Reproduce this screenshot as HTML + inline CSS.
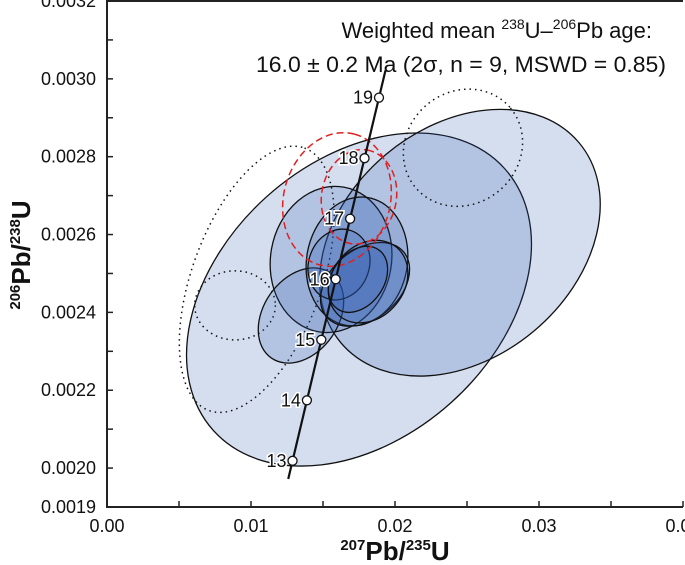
<!DOCTYPE html>
<html><head><meta charset="utf-8"><style>
body{margin:0;background:#fff}
svg{display:block;font-family:"Liberation Sans",Arial,sans-serif}
</style></head><body>
<svg id="chart" width="685" height="565" viewBox="0 0 685 565" xmlns="http://www.w3.org/2000/svg">
<g id="ells"></g>
<g id="conc"></g>
<g id="axes"></g>
<text x="652" y="38" text-anchor="end" font-size="22" fill="#111">Weighted mean <tspan font-size="14" dy="-9">238</tspan><tspan dy="9">U–</tspan><tspan font-size="14" dy="-9">206</tspan><tspan dy="9">Pb age:</tspan></text>
<text x="666" y="72" text-anchor="end" font-size="22" fill="#111" textLength="410" lengthAdjust="spacingAndGlyphs">16.0 ± 0.2 Ma (2σ, n = 9, MSWD = 0.85)</text>
<text x="395" y="560" text-anchor="middle" font-size="26" font-weight="bold" fill="#111"><tspan font-size="15" dy="-10">207</tspan><tspan dy="10">Pb/</tspan><tspan font-size="15" dy="-10">235</tspan><tspan dy="10">U</tspan></text>
<text transform="translate(30,255) rotate(-90)" text-anchor="middle" font-size="26" font-weight="bold" fill="#111"><tspan font-size="15" dy="-10">206</tspan><tspan dy="10">Pb/</tspan><tspan font-size="15" dy="-10">238</tspan><tspan dy="10">U</tspan></text>
</svg>
<script>
const xTicks=[0,0.01,0.02,0.03,0.04];
const xTickLabels=["0.00","0.01","0.02","0.03","0.04"];
const yTicks=[0.0019,0.0020,0.0022,0.0024,0.0026,0.0028,0.0030,0.0032];
const yTickLabels=["0.0019","0.0020","0.0022","0.0024","0.0026","0.0028","0.0030","0.0032"];
const concAges=[13,14,15,16,17,18,19];
// ellipse data: centers (207/235, 206/238), semi-axes (in 207/235 units), rotation deg, style
const ellCx=[0.0175,0.02451,0.02472,0.01040,0.00889,0.01556,0.01347,0.01736,0.01611,0.01792,0.01813,0.01743,0.01597,0.0175];
const ellCy=[0.002433,0.002579,0.002823,0.002485,0.002418,0.002536,0.002392,0.002531,0.002523,0.002472,0.002479,0.002485,0.002690,0.002697];
const ellA=[0.0136,0.0108,0.0043,0.0097,0.0028,0.0051,0.0036,0.0045,0.0025,0.0035,0.0031,0.0025,0.0047,0.0033];
const ellB=[0.0096,0.0080,0.0039,0.0045,0.0024,0.0042,0.0026,0.0035,0.0021,0.0024,0.0025,0.0018,0.0037,0.0026];
const ellRot=[-42,-40,-40,-70,0,-80,-55,-80,-70,-40,-50,-55,-75,-80];
const ellType=["fill","fill","dot","dot","dot","fill","fill","fill","fill","fill","fill","fill","red","red"];

const X0=107,X1=683,Y0=1,Y1=507;
const xMin=0,xMax=0.04,yMin=0.0019,yMax=0.0032;
const sx=v=>X0+(v-xMin)/(xMax-xMin)*(X1-X0);
const sy=v=>Y1-(v-yMin)/(yMax-yMin)*(Y1-Y0);
const pxPerX=(X1-X0)/(xMax-xMin);
const NS="http://www.w3.org/2000/svg";
function mk(tag,attrs,parent){const e=document.createElementNS(NS,tag);for(const k in attrs)e.setAttribute(k,attrs[k]);parent.appendChild(e);return e;}

const eg=document.getElementById('ells');
ellCx.forEach((_,i)=>{
  const t=ellType[i];
  const cx=sx(ellCx[i]),cy=sy(ellCy[i]);
  const st={cx:cx,cy:cy,rx:ellA[i]*pxPerX,ry:ellB[i]*pxPerX,transform:`rotate(${ellRot[i]} ${cx} ${cy})`};
  if(t==="fill"){st.fill="#2f5cb0";st['fill-opacity']="0.2";st.stroke="#111";st['stroke-width']="1.3";}
  else if(t==="dot"){st.fill="none";st.stroke="#111";st['stroke-width']="1.5";st['stroke-dasharray']="1.5 4";}
  else {st.fill="none";st.stroke="#e02020";st['stroke-width']="1.5";st['stroke-dasharray']="7 4";}
  const e=mk('ellipse',st,eg);
  
  
});

const l238=1.55125e-10,l235=9.8485e-10;
const r68=t=>Math.exp(l238*t*1e6)-1, r75=t=>Math.exp(l235*t*1e6)-1;
const cg=document.getElementById('conc');
let d="";
for(let t=12.7;t<=19.5;t+=0.05){d+=(d?"L":"M")+sx(r75(t)).toFixed(2)+","+sy(r68(t)).toFixed(2);}
const cl=mk('path',{d:d,fill:"none",stroke:"#111","stroke-width":"2.2"},cg);


concAges.forEach(a=>{
  const x=sx(r75(a)),y=sy(r68(a));
  const c=mk('circle',{cx:x,cy:y,r:4.5,fill:"#fff",stroke:"#111","stroke-width":"1.3"},cg);
  
  
  const tx=mk('text',{x:x-6,y:y+6,"text-anchor":"end","font-size":"18",fill:"#111",stroke:"#fff","stroke-width":"3","paint-order":"stroke"},cg);
  tx.textContent=a;
  
  
});

const ag=document.getElementById('axes');
const fr=mk('path',{d:`M${X1},${Y0}H${X0}V${Y1}H${X1}`,fill:"none",stroke:"#222","stroke-width":"2"},ag);


for(let v=0;v<=0.0400001;v+=0.005){const x=sx(v);const tk=mk('line',{x1:x,x2:x,y1:Y1,y2:Y1-6,stroke:"#222","stroke-width":"1.5"},ag);
  
  }
for(let v=0.0019;v<=0.00320001;v+=0.0001){const y=sy(v);const tk=mk('line',{x1:X0,x2:X0+6,y1:y,y2:y,stroke:"#222","stroke-width":"1.5"},ag);
  
  }
xTicks.forEach((v,i)=>{const t=mk('text',{x:sx(v),y:Y1+25,"text-anchor":"middle","font-size":"18",fill:"#111"},ag);t.textContent=xTickLabels[i];
  
  });
yTicks.forEach((v,i)=>{const t=mk('text',{x:X0-11,y:sy(v)+6,"text-anchor":"end","font-size":"18",fill:"#111"},ag);t.textContent=yTickLabels[i];
  
  });
</script>
</body></html>
